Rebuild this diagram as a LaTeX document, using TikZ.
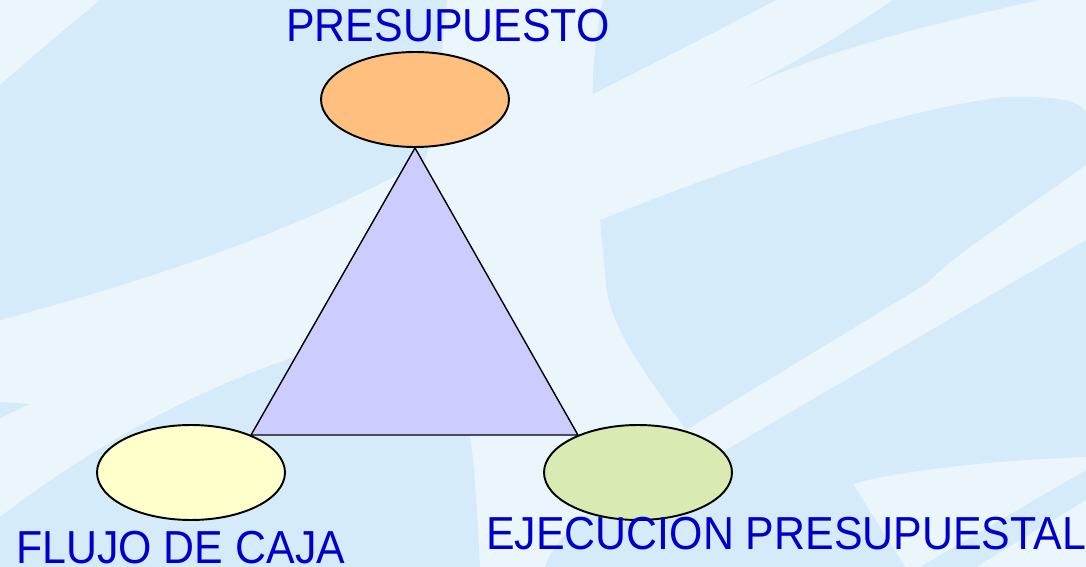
\documentclass[tikz,border=0pt]{standalone}
\usepackage{fontspec}
\setmainfont{Liberation Sans}
\usetikzlibrary{shapes.geometric}

\definecolor{fondoclaro}{RGB}{235,246,252}
\definecolor{fondooscuro}{RGB}{214,235,249}
\definecolor{naranja}{RGB}{255,191,127}
\definecolor{amarillo}{RGB}{255,255,204}
\definecolor{verde}{RGB}{217,234,179}
\definecolor{lila}{RGB}{204,204,255}
\definecolor{azultexto}{RGB}{0,0,204}

\newcommand{\estirar}[1]{\scalebox{1}[1.08]{#1}}

\tikzset{
    ovalo/.style={ellipse,draw=black,line width=1.1pt,minimum width=3.76cm,minimum height=1.9cm,inner sep=0pt},
    etiqueta/.style={inner sep=0pt,text=azultexto,font=\fontsize{24.4}{28}\selectfont},
    mancha/.style={fill=fondooscuro}
}

\begin{document}
\begin{tikzpicture}[x=0.02cm,y=-0.02cm]
    % Fondo
    \fill[fondoclaro] (0,0) rectangle (1086,567);
    \useasboundingbox (0,0) rectangle (1086,567);
    \fill[mancha] (100,0) -- (447,0) .. controls (440,60) and (440,120) .. (425,160)
        .. controls (300,230) and (150,280) .. (0,320) -- (0,85)
        .. controls (40,50) and (70,25) .. (100,0) -- cycle;
    \fill[mancha] (0,517) .. controls (100,440) and (200,390) .. (283,361)
        .. controls (350,335) and (400,315) .. (440,300) -- (470,434)
        .. controls (476,480) and (478,530) .. (480,567) -- (0,567) -- cycle;
    \fill[mancha] (0,402) -- (30,404) -- (0,418) -- cycle;
    \fill[mancha] (603,0) -- (776,0) .. controls (700,40) and (640,70) .. (593,94)
        .. controls (592,60) and (598,30) .. (603,0) -- cycle;
    \fill[mancha] (736,93) .. controls (800,60) and (850,30) .. (893,0) -- (1040,0)
        .. controls (900,30) and (800,60) .. (736,93) -- cycle;
    \fill[mancha] (600,220) .. controls (750,160) and (900,110) .. (1003,97)
        .. controls (1050,95) and (1080,100) .. (1086,112) -- (1086,165)
        .. controls (1010,220) and (960,250) .. (926,284) -- (686,430)
        .. controls (650,380) and (610,330) .. (606,284) -- cycle;
    \fill[mancha] (726,450) -- (1010,284) -- (1086,240) -- (1086,457)
        .. controls (1000,460) and (900,470) .. (853,484) -- (905,567) -- (545,567)
        .. controls (560,520) and (640,470) .. (726,450) -- cycle;
    \fill[mancha] (1086,470) -- (1086,500) -- (976,567) -- (920,567) -- cycle;
    % Elipses
    \node[ovalo,fill=naranja] (presu) at (415,99.5) {};
    \node[ovalo,fill=amarillo] (flujo) at (191,472.5) {};
    \node[ovalo,fill=verde] (ejec) at (638,472.5) {};
    % Triangulo
    \filldraw[fill=lila,draw=black,line width=0.8pt,line join=round]
        (presu.south) -- (flujo.32) -- (ejec.148) -- cycle;
    % Textos
    \node[etiqueta,anchor=base west] (tpresu) at (286,42) {\estirar{PRESUPUESTO}};
    \node[etiqueta,anchor=base west] (tflujo) at (16,563) {\estirar{FLUJO DE CAJA}};
    \node[etiqueta,anchor=base west] (tejec) at (486,550) {\estirar{EJECUCION PRESUPUESTAL}};
\end{tikzpicture}
\end{document}
